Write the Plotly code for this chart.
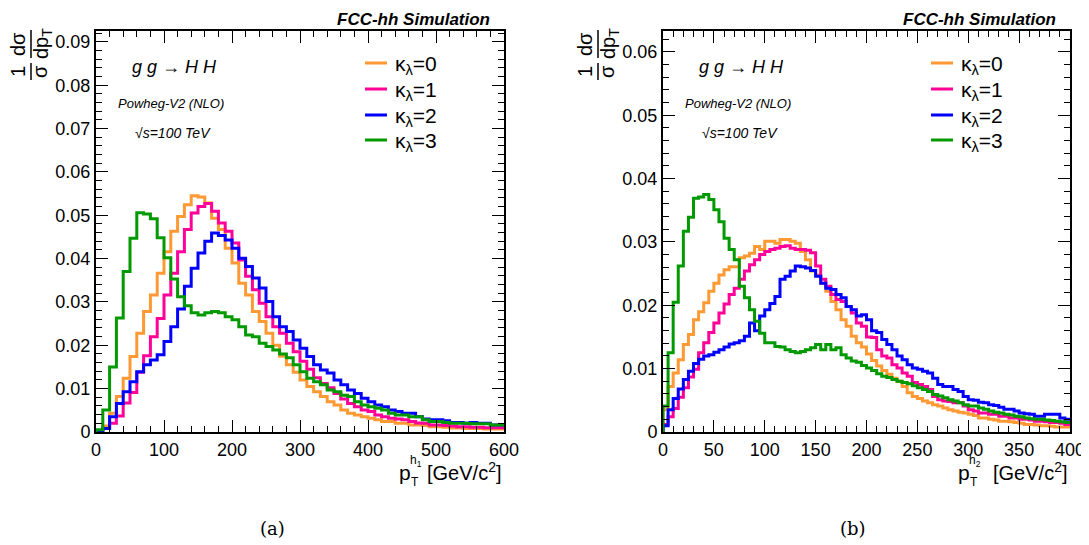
import numpy as np
import plotly.graph_objects as go

# ---------------- data ----------------
labels = ["κ<sub>λ</sub>=0", "κ<sub>λ</sub>=1", "κ<sub>λ</sub>=2", "κ<sub>λ</sub>=3"]
colors = ["#ff9933", "#ff0099", "#0000ff", "#009900"]

# panel (a): leading Higgs pT, 60 bins of 10 GeV from 0 to 600
h1_edges_range = (0, 600)
h1_k0 = [0.0001, 0.0014, 0.0043, 0.0082, 0.0124, 0.0174, 0.0228, 0.0278, 0.0316, 0.0366,
         0.0416, 0.0463, 0.0497, 0.0524, 0.0545, 0.0542, 0.0528, 0.0493, 0.0467, 0.0424,
         0.0390, 0.0343, 0.0316, 0.0278, 0.0255, 0.0228, 0.0200, 0.0175, 0.0155, 0.0138,
         0.0120, 0.0105, 0.0093, 0.0082, 0.0070, 0.0062, 0.0051, 0.0043, 0.0039, 0.0035,
         0.0032, 0.0028, 0.0024, 0.0024, 0.0020, 0.0020, 0.0016, 0.0016, 0.0015, 0.0012,
         0.0012, 0.0011, 0.0009, 0.0009, 0.0008, 0.0008, 0.0008, 0.0007, 0.0007, 0.0007]
h1_k1 = [0.0000, 0.0008, 0.0020, 0.0037, 0.0067, 0.0091, 0.0138, 0.0176, 0.0220, 0.0262,
         0.0316, 0.0366, 0.0416, 0.0467, 0.0505, 0.0520, 0.0527, 0.0509, 0.0482, 0.0463,
         0.0436, 0.0397, 0.0359, 0.0328, 0.0297, 0.0266, 0.0243, 0.0228, 0.0205, 0.0185,
         0.0163, 0.0145, 0.0125, 0.0112, 0.0102, 0.0089, 0.0076, 0.0066, 0.0058, 0.0051,
         0.0047, 0.0039, 0.0035, 0.0032, 0.0030, 0.0028, 0.0024, 0.0021, 0.0020, 0.0016,
         0.0016, 0.0015, 0.0014, 0.0012, 0.0012, 0.0011, 0.0011, 0.0010, 0.0010, 0.0010]
h1_k2 = [0.0000, 0.0008, 0.0035, 0.0066, 0.0093, 0.0116, 0.0139, 0.0155, 0.0166, 0.0178,
         0.0209, 0.0243, 0.0284, 0.0336, 0.0378, 0.0413, 0.0440, 0.0459, 0.0453, 0.0443,
         0.0424, 0.0401, 0.0382, 0.0355, 0.0332, 0.0301, 0.0266, 0.0243, 0.0232, 0.0212,
         0.0193, 0.0174, 0.0155, 0.0143, 0.0136, 0.0120, 0.0109, 0.0097, 0.0089, 0.0078,
         0.0070, 0.0062, 0.0058, 0.0051, 0.0047, 0.0043, 0.0043, 0.0035, 0.0030, 0.0028,
         0.0028, 0.0026, 0.0022, 0.0022, 0.0020, 0.0022, 0.0020, 0.0020, 0.0016, 0.0016]
h1_k3 = [0.0005, 0.0051, 0.0150, 0.0263, 0.0370, 0.0447, 0.0506, 0.0503, 0.0492, 0.0448,
         0.0402, 0.0353, 0.0312, 0.0291, 0.0275, 0.0270, 0.0275, 0.0278, 0.0275, 0.0266,
         0.0259, 0.0243, 0.0224, 0.0220, 0.0205, 0.0197, 0.0189, 0.0180, 0.0171, 0.0155,
         0.0139, 0.0124, 0.0116, 0.0109, 0.0097, 0.0093, 0.0085, 0.0082, 0.0070, 0.0062,
         0.0058, 0.0055, 0.0051, 0.0043, 0.0039, 0.0039, 0.0035, 0.0035, 0.0028, 0.0024,
         0.0024, 0.0022, 0.0020, 0.0020, 0.0020, 0.0019, 0.0019, 0.0019, 0.0016, 0.0016]

# panel (b): subleading Higgs pT, 80 bins of 5 GeV from 0 to 400
h2_edges_range = (0, 400)
h2_k0 = [0.0035, 0.0072, 0.0093, 0.0114, 0.0138, 0.0154, 0.0177, 0.0190, 0.0204, 0.0222,
         0.0235, 0.0248, 0.0256, 0.0261, 0.0261, 0.0275, 0.0278, 0.0282, 0.0293, 0.0288,
         0.0301, 0.0301, 0.0298, 0.0304, 0.0304, 0.0301, 0.0298, 0.0285, 0.0272, 0.0254,
         0.0248, 0.0235, 0.0222, 0.0206, 0.0193, 0.0177, 0.0167, 0.0151, 0.0141, 0.0134,
         0.0123, 0.0113, 0.0104, 0.0097, 0.0091, 0.0085, 0.0080, 0.0072, 0.0062, 0.0056,
         0.0053, 0.0049, 0.0046, 0.0043, 0.0041, 0.0038, 0.0035, 0.0033, 0.0031, 0.0030,
         0.0028, 0.0026, 0.0022, 0.0022, 0.0020, 0.0019, 0.0017, 0.0017, 0.0016, 0.0015,
         0.0014, 0.0012, 0.0012, 0.0011, 0.0010, 0.0010, 0.0009, 0.0008, 0.0008, 0.0008]
h2_k1 = [0.0012, 0.0024, 0.0037, 0.0055, 0.0070, 0.0087, 0.0099, 0.0125, 0.0141, 0.0157,
         0.0172, 0.0188, 0.0202, 0.0217, 0.0227, 0.0241, 0.0254, 0.0264, 0.0272, 0.0280,
         0.0285, 0.0288, 0.0290, 0.0293, 0.0294, 0.0290, 0.0288, 0.0288, 0.0287, 0.0283,
         0.0262, 0.0241, 0.0230, 0.0217, 0.0209, 0.0206, 0.0198, 0.0188, 0.0172, 0.0167,
         0.0150, 0.0149, 0.0130, 0.0120, 0.0117, 0.0106, 0.0101, 0.0093, 0.0088, 0.0078,
         0.0075, 0.0072, 0.0067, 0.0056, 0.0051, 0.0049, 0.0048, 0.0046, 0.0046, 0.0041,
         0.0035, 0.0033, 0.0030, 0.0030, 0.0028, 0.0028, 0.0025, 0.0025, 0.0022, 0.0022,
         0.0020, 0.0020, 0.0019, 0.0017, 0.0017, 0.0016, 0.0015, 0.0015, 0.0014, 0.0012]
h2_k2 = [0.0010, 0.0035, 0.0053, 0.0068, 0.0083, 0.0096, 0.0108, 0.0115, 0.0120, 0.0122,
         0.0126, 0.0130, 0.0134, 0.0139, 0.0141, 0.0144, 0.0151, 0.0172, 0.0160, 0.0183,
         0.0193, 0.0203, 0.0214, 0.0241, 0.0246, 0.0254, 0.0262, 0.0261, 0.0259, 0.0255,
         0.0246, 0.0235, 0.0227, 0.0225, 0.0217, 0.0212, 0.0198, 0.0193, 0.0183, 0.0185,
         0.0177, 0.0160, 0.0157, 0.0146, 0.0138, 0.0130, 0.0120, 0.0114, 0.0106, 0.0101,
         0.0099, 0.0096, 0.0093, 0.0085, 0.0075, 0.0072, 0.0072, 0.0067, 0.0064, 0.0056,
         0.0051, 0.0050, 0.0047, 0.0046, 0.0043, 0.0042, 0.0039, 0.0036, 0.0036, 0.0033,
         0.0030, 0.0029, 0.0028, 0.0025, 0.0025, 0.0028, 0.0028, 0.0028, 0.0022, 0.0020]
h2_k3 = [0.0041, 0.0125, 0.0205, 0.0262, 0.0317, 0.0339, 0.0369, 0.0371, 0.0375, 0.0367,
         0.0351, 0.0332, 0.0306, 0.0288, 0.0272, 0.0230, 0.0212, 0.0193, 0.0175, 0.0156,
         0.0141, 0.0141, 0.0135, 0.0134, 0.0130, 0.0127, 0.0125, 0.0127, 0.0130, 0.0133,
         0.0138, 0.0130, 0.0138, 0.0130, 0.0133, 0.0122, 0.0117, 0.0112, 0.0110, 0.0105,
         0.0101, 0.0097, 0.0092, 0.0088, 0.0086, 0.0083, 0.0080, 0.0078, 0.0076, 0.0073,
         0.0070, 0.0067, 0.0064, 0.0059, 0.0057, 0.0054, 0.0051, 0.0049, 0.0046, 0.0043,
         0.0041, 0.0041, 0.0038, 0.0036, 0.0033, 0.0031, 0.0030, 0.0028, 0.0027, 0.0025,
         0.0024, 0.0022, 0.0021, 0.0020, 0.0020, 0.0019, 0.0018, 0.0017, 0.0016, 0.0015]

# ---------------- figure ----------------
W, H = 1089, 545
OFF = 8  # page body margin of the html page
FONT = "Liberation Sans, Arial, sans-serif"


def pxx(x):
    return (x - OFF) / W


def pyy(y):
    return 1 - (y - OFF) / H


fig = go.Figure()


def add_hist(vals, rng, color, xa, ya):
    n = len(vals)
    edges = np.linspace(rng[0], rng[1], n + 1)
    x = np.concatenate([[edges[0]], edges])
    y = np.concatenate([[0.0], vals, [vals[-1]]])
    fig.add_trace(go.Scatter(x=x, y=y, mode="lines", line=dict(color=color, width=3, shape="hv"),
                             xaxis=xa, yaxis=ya, showlegend=False, hoverinfo="skip"))


for vals, c in zip([h1_k0, h1_k1, h1_k2, h1_k3], colors):
    add_hist(vals, h1_edges_range, c, "x", "y")
for vals, c in zip([h2_k0, h2_k1, h2_k2, h2_k3], colors):
    add_hist(vals, h2_edges_range, c, "x2", "y2")

ydom = [pyy(432), pyy(31)]
ax_common = dict(ticks="inside", ticklen=12, tickwidth=1.2, tickcolor="black", mirror="allticks",
                 showline=True, linewidth=2, linecolor="black", showgrid=False, zeroline=False,
                 automargin=False,
                 tickfont=dict(family=FONT, size=18, color="black"))
minor_common = dict(ticks="inside", ticklen=6, tickcolor="black", tickwidth=1)

fig.update_layout(
    width=W, height=H, margin=dict(l=0, r=0, t=0, b=0, autoexpand=False),
    paper_bgcolor="white", plot_bgcolor="white",
    xaxis=dict(domain=[pxx(96), pxx(504)], range=[0, 600], dtick=100, tick0=0, anchor="y",
               minor=dict(dtick=20, **minor_common), **ax_common),
    yaxis=dict(domain=ydom, range=[0, 0.0925], dtick=0.01, tick0=0, anchor="x",
               minor=dict(dtick=0.002, **minor_common), **ax_common),
    xaxis2=dict(domain=[pxx(663), pxx(1070)], range=[0, 400], dtick=50, tick0=0, anchor="y2",
                minor=dict(dtick=10, **minor_common), **ax_common),
    yaxis2=dict(domain=ydom, range=[0, 0.0633], dtick=0.01, tick0=0, anchor="x2",
                minor=dict(dtick=0.002, **minor_common), **ax_common),
)

ann = []
shapes = []


def text(x, y, s, size, xanchor="left", yanchor="middle", family=FONT, angle=0, color="black"):
    ann.append(dict(x=pxx(x), y=pyy(y), xref="paper", yref="paper", text=s, showarrow=False,
                    xanchor=xanchor, yanchor=yanchor, textangle=angle,
                    font=dict(family=family, size=size, color=color)))


for off, sub, lab, frame_right in [(0, "1", "(a)", 504), (567, "2", "(b)", 1070)]:
    # header
    text(frame_right - 12, 8, "<b><i>FCC-hh Simulation</i></b>", 17, xanchor="right", yanchor="top")
    # process text
    text(130 + off, 67, "<i>g g → H H</i>", 18)
    text(116 + off, 103, "<i>Powheg-V2 (NLO)</i>", 13)
    text(133 + off, 133, "<i>√s=100 TeV</i>", 14)
    # legend
    lx0, lx1, tx = (365, 387, 393) if off == 0 else (931, 953, 959)
    for i, (l, c) in enumerate(zip(labels, colors)):
        yy = [63, 89, 115, 140][i]
        shapes.append(dict(type="line", xref="paper", yref="paper", x0=pxx(lx0), x1=pxx(lx1),
                           y0=pyy(yy), y1=pyy(yy), line=dict(color=c, width=3)))
        text(tx, yy + 2, l, 21)
    # y title (rotated fractions)
    text(18 + off, 72, "1", 20, xanchor="center", angle=-90)
    text(18 + off, 44, "dσ", 20, xanchor="center", angle=-90)
    text(40 + off, 72, "σ", 20, xanchor="center", angle=-90)
    text(42 + off, 44, "dp<sub>T</sub>", 20, xanchor="center", angle=-90)
    shapes.append(dict(type="line", xref="paper", yref="paper", x0=pxx(31 + off), x1=pxx(31 + off),
                       y0=pyy(63), y1=pyy(80), line=dict(color="black", width=1.5)))
    shapes.append(dict(type="line", xref="paper", yref="paper", x0=pxx(31 + off), x1=pxx(31 + off),
                       y0=pyy(30), y1=pyy(58), line=dict(color="black", width=1.5)))
    # x title
    px0 = 397 if off == 0 else 956
    text(px0, 472, "p", 21)
    text(px0 + 12, 482, "T", 12)
    text(px0 + 11, 461, "h<sub>%s</sub>" % sub, 12)
    text(frame_right, 471, "[GeV/c<sup>2</sup>]", 20, xanchor="right")
    # caption
    text(272 + off * 1.024, 528, lab, 18, xanchor="center", family="DejaVu Serif, serif")

fig.update_layout(annotations=ann, shapes=shapes)
fig.write_html("out.html")
